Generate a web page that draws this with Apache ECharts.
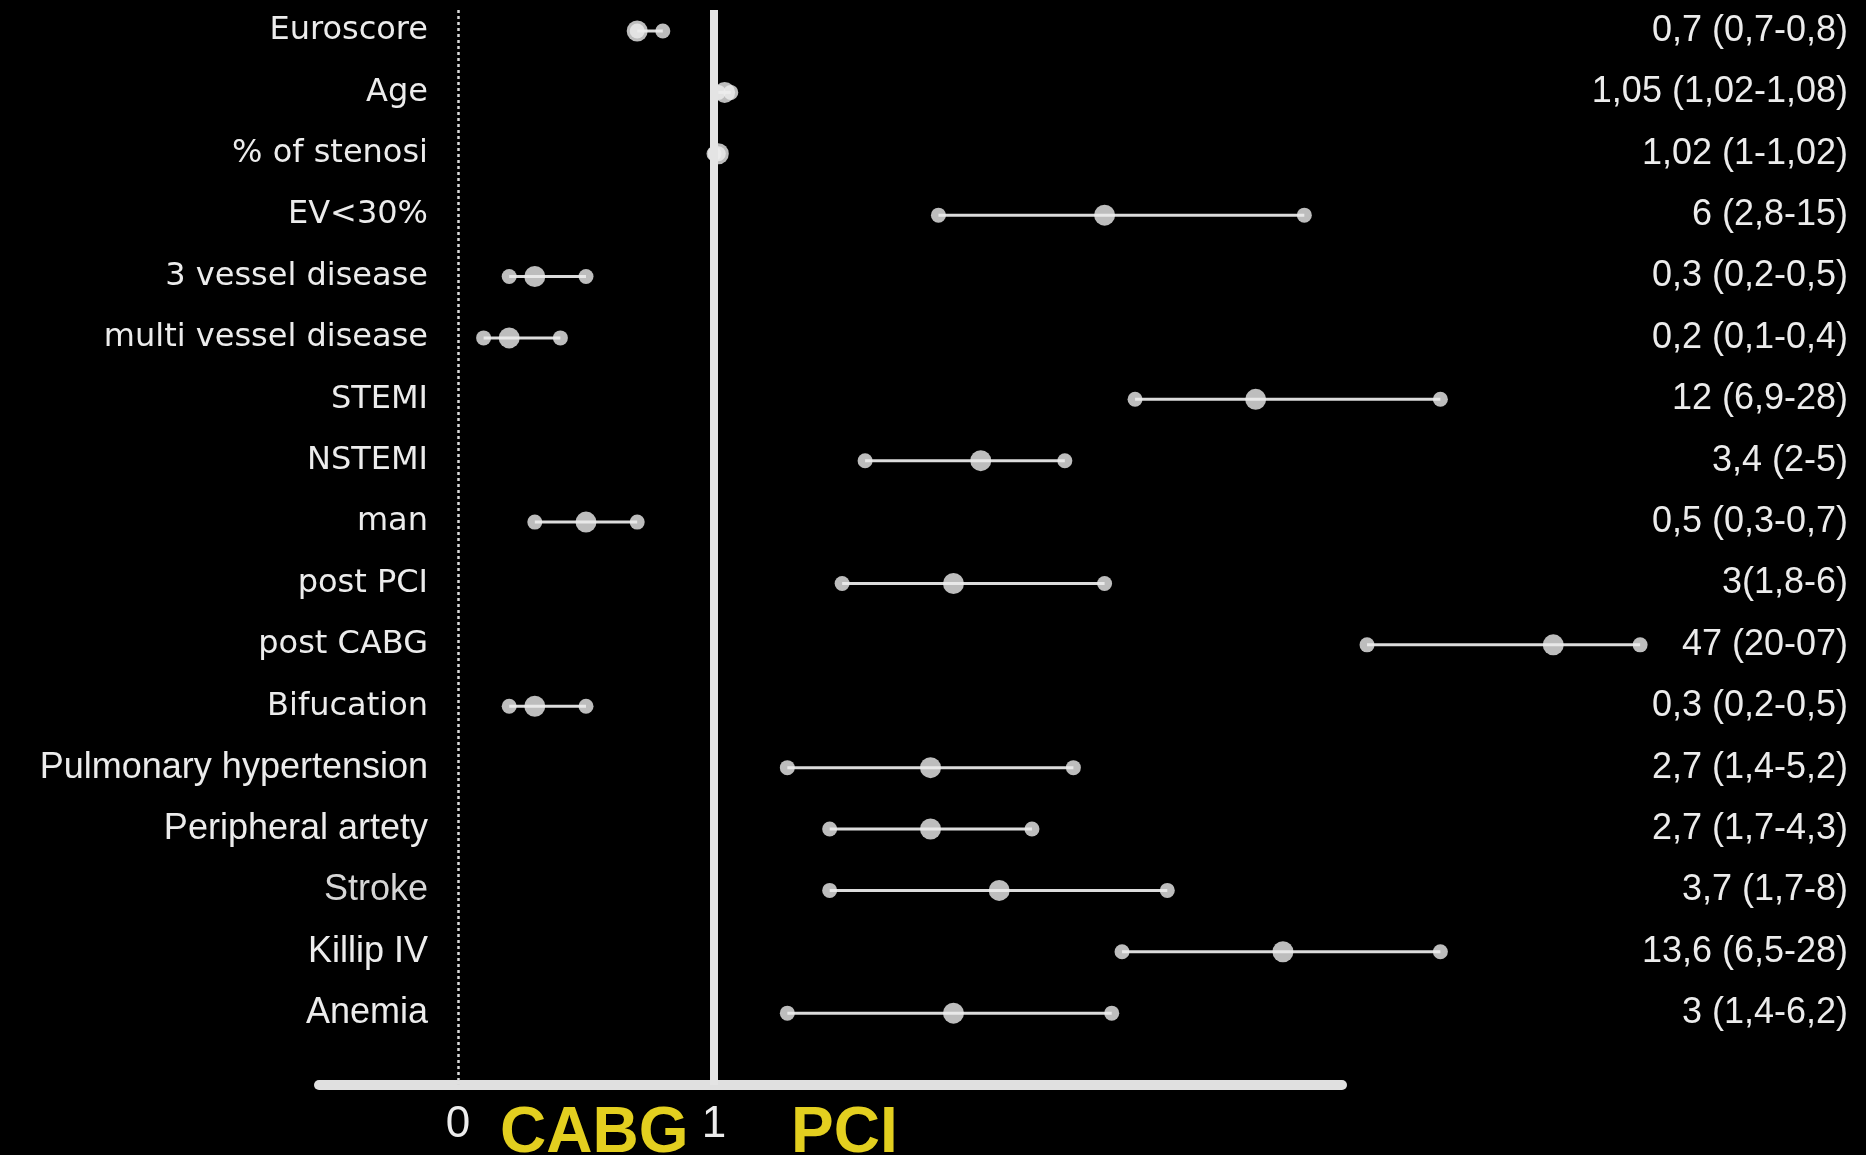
<!DOCTYPE html>
<html>
<head>
<meta charset="utf-8">
<title>CABG vs PCI – odds ratios</title>
<script src="https://cdn.jsdelivr.net/npm/echarts@6/dist/echarts.min.js"></script>
<style>
  html, body { margin: 0; padding: 0; background: #000; }
  #chart { width: 1866px; height: 1155px; }
</style>
</head>
<body>
<div id="chart"></div>
<script>
// Predictors, top to bottom
const rowNames = [
  'Euroscore', 'Age', '% of stenosi', 'EV<30%', '3 vessel disease',
  'multi vessel disease', 'STEMI', 'NSTEMI', 'man', 'post PCI', 'post CABG',
  'Bifucation', 'Pulmonary hypertension', 'Peripheral artety', 'Stroke',
  'Killip IV', 'Anemia'
];
// Odds ratio and 95% confidence interval for each predictor
const oddsRatio = [0.7, 1.05, 1.02, 6, 0.3, 0.2, 12, 3.4, 0.5, 3, 47, 0.3, 2.7, 2.7, 3.7, 13.6, 3];
const ciLow     = [0.7, 1.02, 1, 2.8, 0.2, 0.1, 6.9, 2, 0.3, 1.8, 20, 0.2, 1.4, 1.7, 1.7, 6.5, 1.4];
// post CABG upper bound is printed as "07"; it is drawn as 70 so the interval stays above the estimate
const ciHigh    = [0.8, 1.08, 1.02, 15, 0.5, 0.4, 28, 5, 0.7, 6, 70, 0.5, 5.2, 4.3, 8, 28, 6.2];
// Result column, as printed
const resultText = [
  '0,7 (0,7-0,8)', '1,05 (1,02-1,08)', '1,02 (1-1,02)', '6 (2,8-15)', '0,3 (0,2-0,5)',
  '0,2 (0,1-0,4)', '12 (6,9-28)', '3,4 (2-5)', '0,5 (0,3-0,7)', '3(1,8-6)', '47 (20-07)',
  '0,3 (0,2-0,5)', '2,7 (1,4-5,2)', '2,7 (1,7-4,3)', '3,7 (1,7-8)', '13,6 (6,5-28)', '3 (1,4-6,2)'
];
const axisTickValues = [0, 1];
const sideLabels = ['CABG', 'PCI'];

const rowIndex = rowNames.map((_, i) => i);
const cabgRows = rowIndex.filter(i => ciHigh[i] <= 1);   // favour CABG: linear 0–1 panel
const pciRows  = rowIndex.filter(i => ciLow[i] >= 1);    // favour PCI: log panel from 1

const arialRows = new Set(['Pulmonary hypertension', 'Peripheral artety', 'Killip IV', 'Anemia']);
const LIGHT = '#ececec';

function ciRenderer(params, api) {
  const y = api.value(2);
  const a = api.coord([api.value(0), y]);
  const b = api.coord([api.value(1), y]);
  return {
    type: 'line',
    shape: { x1: a[0], y1: a[1], x2: b[0], y2: b[1] },
    style: { stroke: '#dcdcdc', lineWidth: 3 }
  };
}

function panelSeries(rows, gridIdx, extra) {
  return [
    {
      type: 'custom',
      xAxisIndex: gridIdx, yAxisIndex: gridIdx,
      renderItem: ciRenderer,
      encode: { x: [0, 1], y: 2 },
      clip: false,
      silent: true,
      z: 2,
      data: rows.map(i => [ciLow[i], ciHigh[i], i])
    },
    {
      type: 'scatter',
      xAxisIndex: gridIdx, yAxisIndex: gridIdx,
      symbol: 'circle', symbolSize: 15,
      itemStyle: { color: LIGHT },
      clip: false, silent: true, z: 3,
      data: rows.flatMap(i => [[ciLow[i], i], [ciHigh[i], i]])
    },
    Object.assign({
      type: 'scatter',
      xAxisIndex: gridIdx, yAxisIndex: gridIdx,
      symbol: 'circle', symbolSize: 21,
      itemStyle: { color: LIGHT },
      clip: false, silent: true, z: 4,
      data: rows.map(i => [oddsRatio[i], i])
    }, extra || {})
  ];
}

const yBase = {
  type: 'value', inverse: true, min: -0.342, max: 17.17,
  axisLine: { show: false }, axisTick: { show: false }, splitLine: { show: false }
};
const baseLine = { show: true, onZero: false, lineStyle: { color: '#e0e0e0', width: 10 } };

const chart = echarts.init(document.getElementById('chart'), null, { renderer: 'canvas' });
chart.setOption({
  backgroundColor: '#000',
  animation: false,
  grid: [
    { left: 319, top: 10, width: 395, height: 1075, outerBoundsMode: 'none' },
    { left: 714, top: 10, width: 628, height: 1075, outerBoundsMode: 'none' }
  ],
  xAxis: [
    {
      gridIndex: 0, type: 'value', position: 'bottom', min: -0.543, max: 1,
      axisLine: baseLine,
      axisTick: { show: false }, splitLine: { show: false },
      axisLabel: {
        customValues: axisTickValues, margin: 18,
        color: LIGHT, fontFamily: 'Liberation Sans', fontSize: 44
      }
    },
    {
      gridIndex: 1, type: 'log', position: 'bottom', logBase: 10, min: 1, max: 17.83,
      axisLine: baseLine,
      axisTick: { show: false }, splitLine: { show: false }, minorSplitLine: { show: false },
      axisLabel: { show: false }
    }
  ],
  yAxis: [
    Object.assign({}, yBase, {
      gridIndex: 0, position: 'left', offset: -117,
      axisLabel: {
        customValues: rowIndex, margin: 8, align: 'right',
        formatter: v => {
          const n = rowNames[v];
          if (n === undefined) return '';
          const s = n === 'Stroke' ? 'thin' : (arialRows.has(n) ? 'arial' : 'tahoma');
          return '{' + s + '|' + n + '}';
        },
        rich: {
          tahoma: { fontFamily: 'DejaVu Sans', fontSize: 32, color: LIGHT },
          arial: { fontFamily: 'Liberation Sans', fontSize: 36, color: LIGHT },
          thin: { fontFamily: 'Liberation Sans', fontSize: 36, color: '#d6d6d6' }
        }
      }
    }),
    Object.assign({}, yBase, {
      gridIndex: 1, position: 'right',
      axisLabel: {
        customValues: rowIndex, margin: 506, align: 'right',
        color: LIGHT, fontFamily: 'Liberation Sans', fontSize: 36,
        formatter: v => resultText[v] === undefined ? '' : resultText[v]
      }
    })
  ],
  graphic: [
    {
      type: 'text', left: 500, top: 1102, silent: true,
      style: { text: sideLabels[0], fill: '#e3cf1f', font: 'bold 64px "Liberation Sans"' }
    },
    {
      type: 'text', left: 791, top: 1102, silent: true,
      style: { text: sideLabels[1], fill: '#e3cf1f', font: 'bold 64px "Liberation Sans"' }
    }
  ],
  series: [
    ...panelSeries(cabgRows, 0, {
      markLine: {
        silent: true, symbol: ['none', 'none'], label: { show: false },
        emphasis: { disabled: true },
        data: [
          { xAxis: 0, lineStyle: { type: [3, 3], width: 2.5, color: '#dadada' } },
          { xAxis: 1, lineStyle: { type: 'solid', width: 8, color: '#e4e4e4' } }
        ]
      }
    }),
    ...panelSeries(pciRows, 1)
  ]
});
</script>
</body>
</html>
